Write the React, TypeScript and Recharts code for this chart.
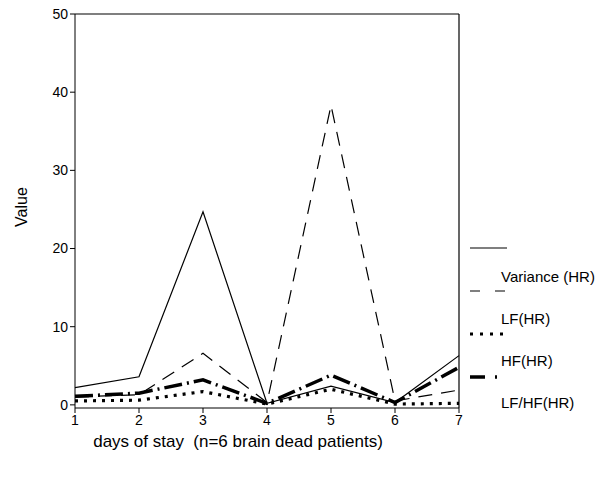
import React from 'react';
import { LineChart, Line, XAxis, YAxis, ReferenceLine } from 'recharts';

const days = [1, 2, 3, 4, 5, 6, 7];
const varianceHR = [2.2, 3.6, 24.7, 0.2, 2.4, 0.3, 6.3];
const lfHR = [1.0, 1.3, 6.6, 0.3, 38.3, 0.5, 1.9];
const hfHR = [0.5, 0.6, 1.7, 0.1, 2.0, 0.1, 0.2];
const lfhfHR = [1.1, 1.5, 3.2, 0.2, 3.8, 0.3, 4.8];
const yTicks = [0, 10, 20, 30, 40, 50];

const data = days.map((d, i) => ({
  day: d,
  variance: varianceHR[i],
  lf: lfHR[i],
  hf: hfHR[i],
  lfhf: lfhfHR[i],
}));

const font = '"Liberation Sans", Arial, sans-serif';

const legendItems = [
  { label: 'Variance (HR)', width: 1.2, dash: undefined as string | undefined },
  { label: 'LF(HR)', width: 1.2, dash: '10 15' },
  { label: 'HF(HR)', width: 3, dash: '3 7' },
  { label: 'LF/HF(HR)', width: 3.5, dash: '15 10 2 20' },
];

export default function App() {
  return (
    <div style={{ position: 'fixed', left: 0, top: 0, width: 606, height: 482, background: '#fff', fontFamily: font }}>
      <LineChart width={606} height={482} data={data} margin={{ top: 14, right: 147, bottom: 44, left: 30 }}>
        <XAxis
          dataKey="day"
          type="number"
          domain={[1, 7]}
          ticks={days}
          stroke="#000"
          tickSize={5}
          height={30}
          tick={{ fill: '#000', fontSize: 14, fontFamily: font }}
        />
        <YAxis
          type="number"
          domain={[-0.4, 50]}
          ticks={yTicks}
          stroke="#000"
          tickSize={5}
          width={45}
          allowDataOverflow
          tick={{ fill: '#000', fontSize: 14, fontFamily: font }}
        />
        <ReferenceLine y={50} stroke="#000" strokeWidth={1.2} ifOverflow="extendDomain" />
        <ReferenceLine x={7} stroke="#000" strokeWidth={1.2} />
        <Line dataKey="variance" stroke="#000" strokeWidth={1.2} dot={false} isAnimationActive={false} />
        <Line dataKey="lf" stroke="#000" strokeWidth={1.2} strokeDasharray="14 9" dot={false} isAnimationActive={false} />
        <Line dataKey="hf" stroke="#000" strokeWidth={3.2} strokeDasharray="3 6" dot={false} isAnimationActive={false} />
        <Line dataKey="lfhf" stroke="#000" strokeWidth={3.5} strokeDasharray="18 5 2 5" dot={false} isAnimationActive={false} />
      </LineChart>
      <div style={{ position: 'absolute', left: -8, top: 198, width: 60, textAlign: 'center', fontSize: 16, transform: 'rotate(-90deg)' }}>
        Value
      </div>
      <div style={{ position: 'absolute', left: 0, width: 476, top: 432, textAlign: 'center', fontSize: 17, whiteSpace: 'pre' }}>
        days of stay  (n=6 brain dead patients)
      </div>
      <svg style={{ position: 'absolute', left: 0, top: 0 }} width={606} height={482}>
        {legendItems.map((it, i) => (
          <g key={it.label}>
            <line x1={470} x2={507} y1={248 + i * 43} y2={248 + i * 43} stroke="#000" strokeWidth={it.width} strokeDasharray={it.dash} />
            <text x={501} y={282 + i * 42} fontSize={15} fontFamily={font} fill="#000">{it.label}</text>
          </g>
        ))}
      </svg>
    </div>
  );
}
